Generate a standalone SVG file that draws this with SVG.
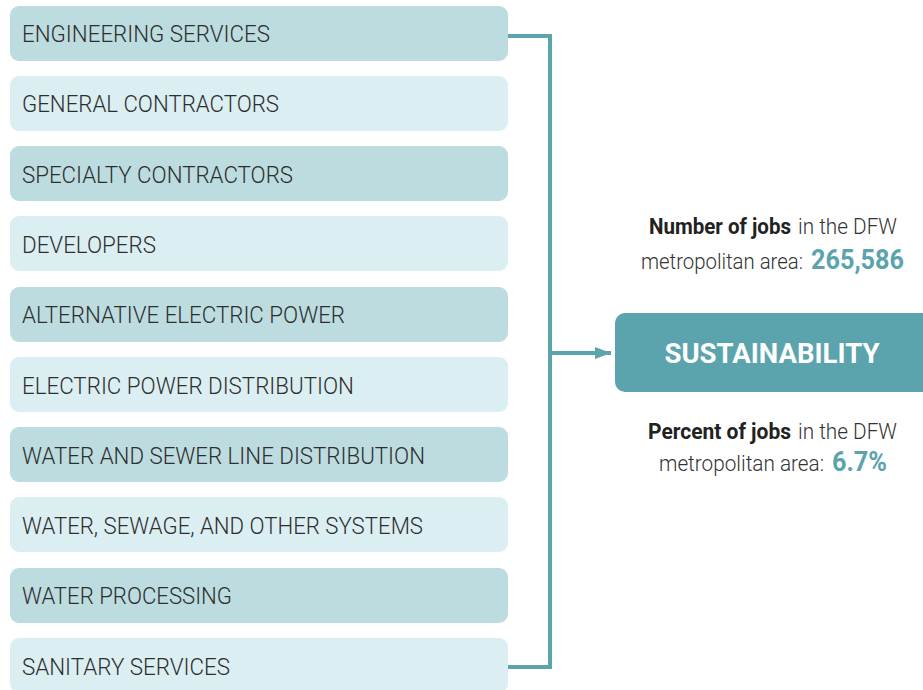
<svg xmlns="http://www.w3.org/2000/svg" width="923" height="690" viewBox="0 0 923 690">
<style>
.d{fill:#bcdce0}.l{fill:#dbeef2}
.t{font-family:"Roboto","Liberation Sans",sans-serif;font-size:23px;font-weight:300;fill:#2e2e2e;}
.c{fill:none;stroke:#5ba4ad;stroke-width:4}
.info{font-family:"Roboto","Liberation Sans",sans-serif;font-size:22px;font-weight:300;fill:#333}
.b{font-weight:bold;fill:#222}
.n{font-weight:bold;fill:#5ba4ad;font-size:27px}
</style>
<defs>
<marker id="ah" markerWidth="16" markerHeight="12" refX="16" refY="6" orient="auto" markerUnits="userSpaceOnUse"><path d="M0,0 L16,6 L0,12 z" fill="#5ba4ad"/></marker>
</defs>
<rect width="923" height="690" fill="#fff"/>
<g id="n1"><rect class="d" x="10" y="6" width="498" height="55" rx="9"/><text class="t" x="22" y="42" textLength="248" lengthAdjust="spacingAndGlyphs">ENGINEERING SERVICES</text></g>
<g id="n2"><rect class="l" x="10" y="76" width="498" height="55" rx="9"/><text class="t" x="22" y="112" textLength="257" lengthAdjust="spacingAndGlyphs">GENERAL CONTRACTORS</text></g>
<g id="n3"><rect class="d" x="10" y="146" width="498" height="55" rx="9"/><text class="t" x="22" y="183" textLength="271" lengthAdjust="spacingAndGlyphs">SPECIALTY CONTRACTORS</text></g>
<g id="n4"><rect class="l" x="10" y="216" width="498" height="55" rx="9"/><text class="t" x="22" y="253" textLength="134" lengthAdjust="spacingAndGlyphs">DEVELOPERS</text></g>
<g id="n5"><rect class="d" x="10" y="287" width="498" height="55" rx="9"/><text class="t" x="22" y="323" textLength="323" lengthAdjust="spacingAndGlyphs">ALTERNATIVE ELECTRIC POWER</text></g>
<g id="n6"><rect class="l" x="10" y="357" width="498" height="55" rx="9"/><text class="t" x="22" y="394" textLength="332" lengthAdjust="spacingAndGlyphs">ELECTRIC POWER DISTRIBUTION</text></g>
<g id="n7"><rect class="d" x="10" y="427" width="498" height="55" rx="9"/><text class="t" x="22" y="464" textLength="403" lengthAdjust="spacingAndGlyphs">WATER AND SEWER LINE DISTRIBUTION</text></g>
<g id="n8"><rect class="l" x="10" y="497" width="498" height="55" rx="9"/><text class="t" x="22" y="534" textLength="401" lengthAdjust="spacingAndGlyphs">WATER, SEWAGE, AND OTHER SYSTEMS</text></g>
<g id="n9"><rect class="d" x="10" y="568" width="498" height="55" rx="9"/><text class="t" x="22" y="604" textLength="210" lengthAdjust="spacingAndGlyphs">WATER PROCESSING</text></g>
<g id="n10"><rect class="l" x="10" y="638" width="498" height="55" rx="9"/><text class="t" x="22" y="675" textLength="208" lengthAdjust="spacingAndGlyphs">SANITARY SERVICES</text></g>
<g id="connectors">
<path class="c" d="M508,36 H550 V667 H508"/>
<path class="c" d="M550,353 H611" marker-end="url(#ah)"/>
</g>
<g id="sustainability">
<rect x="615" y="313" width="320" height="79" rx="10" fill="#5ba4ae"/>
<text x="772" y="363" text-anchor="middle" font-family="Roboto,'Liberation Sans',sans-serif" font-weight="bold" font-size="28" fill="#fff" textLength="215" lengthAdjust="spacingAndGlyphs">SUSTAINABILITY</text>
</g>
<g id="jobs-number">
<text class="info b" x="649" y="234" textLength="142" lengthAdjust="spacingAndGlyphs">Number of jobs</text>
<text class="info" x="798" y="234" textLength="99" lengthAdjust="spacingAndGlyphs">in the DFW</text>
<text class="info" x="641" y="269" textLength="162" lengthAdjust="spacingAndGlyphs">metropolitan area:</text>
<text class="info n" x="811" y="269" textLength="93" lengthAdjust="spacingAndGlyphs">265,586</text>
</g>
<g id="jobs-percent">
<text class="info b" x="648" y="439" textLength="143" lengthAdjust="spacingAndGlyphs">Percent of jobs</text>
<text class="info" x="798" y="439" textLength="99" lengthAdjust="spacingAndGlyphs">in the DFW</text>
<text class="info" x="659" y="471" textLength="165" lengthAdjust="spacingAndGlyphs">metropolitan area:</text>
<text class="info n" x="832" y="471" textLength="55" lengthAdjust="spacingAndGlyphs">6.7%</text>
</g>
</svg>
